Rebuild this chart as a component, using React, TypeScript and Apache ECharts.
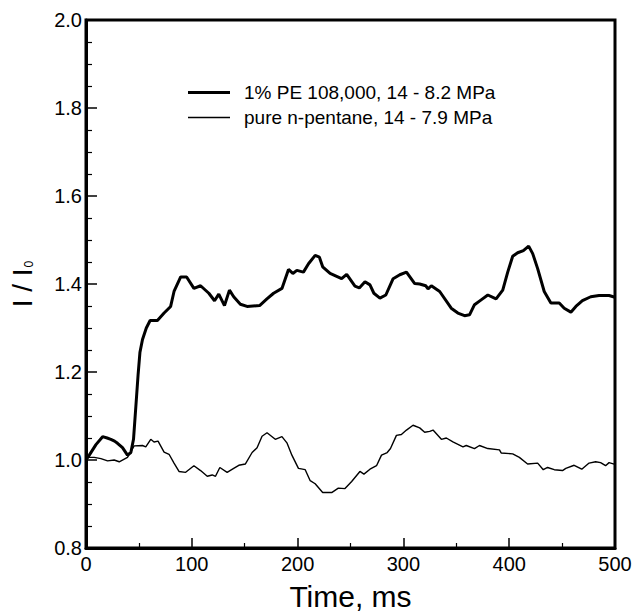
import React, { useEffect, useRef } from "react";
import * as echarts from "echarts";

const xTicks = [0, 100, 200, 300, 400, 500];
const yTicks = [0.8, 1.0, 1.2, 1.4, 1.6, 1.8, 2.0];

const peName = "1% PE 108,000, 14 - 8.2 MPa";
const pentaneName = "pure n-pentane, 14 - 7.9 MPa";

const peTime = [0, 3.1, 9.4, 15.7, 20, 23.5, 27, 29.8, 34.5, 39.2, 42.4, 44.9, 47.1, 49.3, 51, 53.4, 57, 60.6, 67.5, 73.8, 80, 83.2, 89.5, 95.1, 102, 108.3, 116.1, 121.5, 125.5, 130.9, 135.6, 139.6, 145.9, 152.2, 164.1, 171, 177.3, 185.2, 191.4, 195.5, 199.3, 205.5, 210.3, 216.6, 220.6, 223.7, 230.7, 241.6, 246.4, 254.2, 258.3, 263.7, 268.4, 272.1, 277.8, 283.4, 290.3, 296.6, 302.9, 310.7, 315.4, 321.1, 323.3, 326.4, 334.3, 345.2, 351.5, 357.8, 362.5, 367.2, 373.5, 379.8, 387.6, 393.9, 398.6, 403.3, 408, 413.4, 418.4, 422.2, 426.9, 433.1, 439.4, 447.3, 452, 458.3, 463, 469.2, 477.1, 484.9, 494.4, 500];
const peValue = [1.0, 1.011, 1.035, 1.053, 1.05, 1.047, 1.043, 1.038, 1.028, 1.011, 1.017, 1.047, 1.121, 1.196, 1.245, 1.274, 1.3, 1.317, 1.317, 1.334, 1.349, 1.383, 1.416, 1.416, 1.39, 1.396, 1.379, 1.362, 1.377, 1.351, 1.386, 1.371, 1.354, 1.349, 1.351, 1.366, 1.379, 1.39, 1.433, 1.424, 1.431, 1.427, 1.446, 1.465, 1.461, 1.439, 1.424, 1.412, 1.422, 1.395, 1.391, 1.405, 1.398, 1.379, 1.368, 1.375, 1.412, 1.421, 1.427, 1.401, 1.4, 1.396, 1.389, 1.396, 1.383, 1.345, 1.334, 1.328, 1.33, 1.353, 1.364, 1.375, 1.366, 1.386, 1.427, 1.463, 1.471, 1.476, 1.486, 1.469, 1.435, 1.383, 1.357, 1.357, 1.345, 1.336, 1.349, 1.362, 1.371, 1.374, 1.374, 1.37];

const pentaneTime = [0, 1.5, 7.8, 14.1, 20.4, 26.6, 31.4, 39.2, 45.5, 53.4, 56.5, 61.2, 64.3, 68.1, 73.8, 78.5, 83.2, 87.9, 94.2, 102, 108.3, 114.6, 119.3, 122.4, 126.5, 133.4, 139.6, 144.4, 150.7, 157, 161.7, 166.4, 171.1, 178.9, 185.2, 189.9, 194.6, 200.8, 207.2, 211.9, 216.6, 223.7, 232.2, 238.5, 244.8, 251.1, 258.9, 262.7, 268.4, 274.6, 279.3, 284.7, 287.8, 293.4, 298.1, 302.9, 309.1, 315.4, 320.1, 324.9, 328, 335.9, 340.6, 346.8, 356.3, 359.4, 367.2, 371.9, 379.8, 390.8, 392.4, 403.3, 409.6, 417.4, 426.9, 432.2, 436.3, 442.6, 450.4, 453.5, 461.4, 468.6, 475.5, 481.7, 486.4, 491.1, 494.4, 500];
const pentaneValue = [1.0, 1.006, 1.006, 1.003, 0.998, 1.0, 0.996, 1.006, 1.032, 1.033, 1.03, 1.047, 1.041, 1.043, 1.018, 1.013, 0.993, 0.974, 0.972, 0.987, 0.976, 0.963, 0.966, 0.963, 0.983, 0.972, 0.981, 0.988, 0.991, 1.017, 1.028, 1.054, 1.062, 1.047, 1.053, 1.039, 1.011, 0.981, 0.978, 0.953, 0.946, 0.926, 0.926, 0.936, 0.935, 0.951, 0.974, 0.968, 0.979, 0.987, 1.011, 1.017, 1.026, 1.056, 1.058, 1.068, 1.079, 1.073, 1.063, 1.065, 1.068, 1.047, 1.05, 1.041, 1.03, 1.033, 1.026, 1.033, 1.026, 1.023, 1.016, 1.014, 1.006, 0.991, 0.993, 0.978, 0.983, 0.978, 0.976, 0.981, 0.988, 0.979, 0.993, 0.996, 0.994, 0.987, 0.994, 0.99];

const FONT = "'Liberation Sans', Arial, Helvetica, sans-serif";

export default function App() {
  const ref = useRef<HTMLDivElement>(null);
  useEffect(() => {
    if (!ref.current) return;
    const chart = echarts.init(ref.current, undefined, { renderer: "svg" });
    const zip = (a: number[], b: number[]) => a.map((t, i) => [t, b[i]]);
    chart.setOption({
      animation: false,
      backgroundColor: "#fff",
      textStyle: { fontFamily: FONT, color: "#000" },
      grid: {
        left: 85,
        right: 22,
        top: 20,
        bottom: 59,
        show: true,
        borderColor: "#000",
        borderWidth: 3,
        backgroundColor: "transparent",
      },
      legend: [
        {
          data: [peName],
          orient: "vertical",
          left: 183,
          top: 78,
          icon: "rect",
          itemWidth: 42,
          itemHeight: 3,
          textStyle: { fontSize: 19, color: "#000", fontFamily: FONT, padding: [0, 0, 0, 9] },
          selectedMode: false,
        },
        {
          data: [pentaneName],
          orient: "vertical",
          left: 183,
          top: 103,
          icon: "rect",
          itemWidth: 42,
          itemHeight: 1.5,
          textStyle: { fontSize: 19, color: "#000", fontFamily: FONT, padding: [0, 0, 0, 9] },
          selectedMode: false,
        },
      ],
      xAxis: {
        type: "value",
        min: xTicks[0],
        max: xTicks[xTicks.length - 1],
        interval: 100,
        name: "Time, ms",
        nameLocation: "middle",
        nameGap: 33,
        nameTextStyle: { fontSize: 30, color: "#000", fontFamily: FONT },
        axisLine: { lineStyle: { color: "#000", width: 3 } },
        axisTick: { inside: true, length: 10, lineStyle: { color: "#000", width: 1.5 } },
        minorTick: { show: true, splitNumber: 2, length: 5, lineStyle: { color: "#000", width: 1.2 } },
        splitLine: { show: false },
        axisLabel: { fontSize: 20, color: "#000", margin: 6, fontFamily: FONT },
      },
      yAxis: {
        type: "value",
        min: yTicks[0],
        max: yTicks[yTicks.length - 1],
        interval: 0.2,
        name: "{a|I / I}{b|0}",
        nameLocation: "middle",
        nameRotate: 90,
        nameGap: 50,
        nameTextStyle: {
          color: "#000",
          fontFamily: FONT,
          rich: {
            a: { fontSize: 28, fontFamily: FONT, color: "#000" },
            b: { fontSize: 12, fontFamily: FONT, color: "#000", padding: [14, 0, 0, 1] },
          },
        },
        axisLine: { lineStyle: { color: "#000", width: 3 } },
        axisTick: { inside: true, length: 11, lineStyle: { color: "#000", width: 1.5 } },
        minorTick: { show: true, splitNumber: 4, length: 6, lineStyle: { color: "#000", width: 1.2 } },
        splitLine: { show: false },
        axisLabel: {
          fontSize: 20,
          color: "#000",
          margin: 4,
          fontFamily: FONT,
          formatter: (v: number) => v.toFixed(1),
        },
      },
      series: [
        {
          name: peName,
          type: "line",
          data: zip(peTime, peValue),
          showSymbol: false,
          symbol: "none",
          lineStyle: { color: "#000", width: 3 },
          itemStyle: { color: "#000" },
        },
        {
          name: pentaneName,
          type: "line",
          data: zip(pentaneTime, pentaneValue),
          showSymbol: false,
          symbol: "none",
          lineStyle: { color: "#000", width: 1.4 },
          itemStyle: { color: "#000" },
        },
      ],
    });
    return () => chart.dispose();
  }, []);
  return <div ref={ref} style={{ width: 637, height: 616, position: "absolute", left: 0, top: 0 }} />;
}
